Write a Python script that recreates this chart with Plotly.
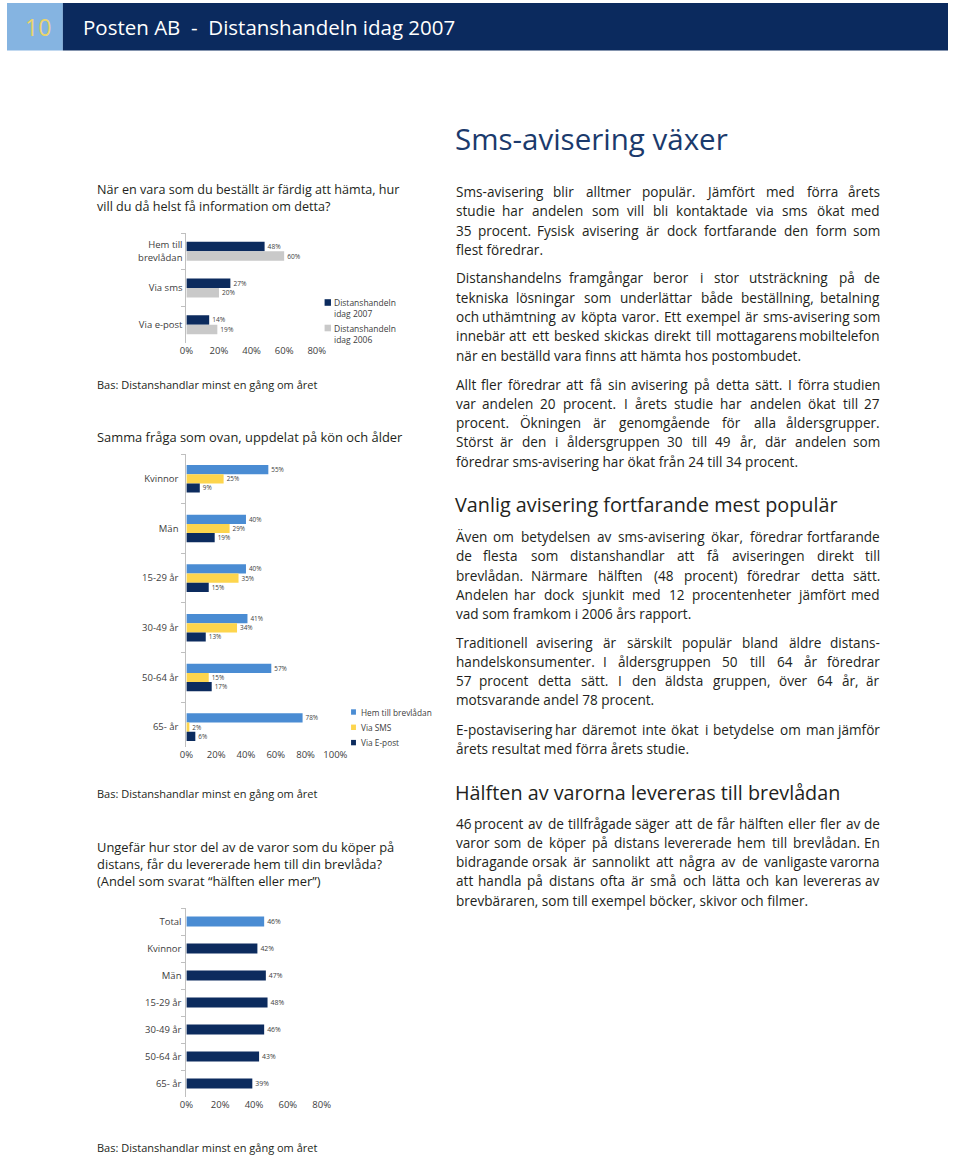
import plotly.graph_objects as go

W, H = 960, 1155
def px(x): return x / W
def py(y): return 1 - y / H

# ---------------- DATA ----------------
c1_categories = ["Hem till<br>brevlådan", "Via sms", "Via e-post"]
c1_series = ["Distanshandeln<br>idag 2007", "Distanshandeln<br>idag 2006"]
c1_2007 = [48, 27, 14]
c1_2006 = [60, 20, 19]
c1_ticks = [0, 20, 40, 60, 80]

c2_categories = ["Kvinnor", "Män", "15-29 år", "30-49 år", "50-64 år", "65- år"]
c2_series = ["Hem till brevlådan", "Via SMS", "Via E-post"]
c2_hem = [55, 40, 40, 41, 57, 78]
c2_sms = [25, 29, 35, 34, 15, 2]
c2_epost = [9, 19, 15, 13, 17, 6]
c2_ticks = [0, 20, 40, 60, 80, 100]

c3_categories = ["Total", "Kvinnor", "Män", "15-29 år", "30-49 år", "50-64 år", "65- år"]
c3_values = [46, 42, 47, 48, 46, 43, 39]
c3_ticks = [0, 20, 40, 60, 80]

# ---------------- STYLE ----------------
NAVY = "#0c2b5e"
GRAY = "#c9c9c9"
BLUE = "#4a8cd3"
YELLOW = "#fdd54d"
TXT = "#231f20"
CTXT = "#404040"
AX = "#bfbfbf"
FONT = "Open Sans"

fig = go.Figure()

def pct(vals):
    return [f"{v}%" for v in vals]

def hbar(cats, vals, color, xa, ya, width, offset, tsize):
    return go.Bar(
        y=cats, x=vals, orientation="h", marker=dict(color=color, line=dict(width=0)),
        width=width, offset=offset, text=pct(vals), textposition="outside",
        textfont=dict(family=FONT, size=tsize, color=CTXT), cliponaxis=False,
        xaxis=xa, yaxis=ya, showlegend=False, hoverinfo="skip",
    )

# chart 1
w1 = 0.26
fig.add_trace(hbar(c1_categories, c1_2007, NAVY, "x", "y", w1, -w1, 9))
fig.add_trace(hbar(c1_categories, c1_2006, GRAY, "x", "y", w1, 0, 9))
# chart 2
w2 = 0.185
fig.add_trace(hbar(c2_categories, c2_hem, BLUE, "x2", "y2", w2, -1.5 * w2, 9))
fig.add_trace(hbar(c2_categories, c2_sms, YELLOW, "x2", "y2", w2, -0.5 * w2, 9))
fig.add_trace(hbar(c2_categories, c2_epost, NAVY, "x2", "y2", w2, 0.5 * w2, 9))
# chart 3
w3 = 0.37
c3_colors = [BLUE] + [NAVY] * (len(c3_values) - 1)
fig.add_trace(hbar(c3_categories, c3_values, c3_colors, "x3", "y3", w3, -w3 / 2, 9))

def xaxis(dom, ticks, anchor):
    return dict(domain=[px(dom[0]), px(dom[1])], range=[ticks[0], ticks[-1]],
                tickvals=ticks, ticktext=[f"{t}%" for t in ticks],
                showgrid=False, zeroline=False, showline=False, ticks="",
                tickfont=dict(family=FONT, size=9.5, color=CTXT), anchor=anchor,
                fixedrange=True)

def yaxis(top, bottom, n, anchor, fsize, standoff, bottom_pad=0.5):
    return dict(domain=[py(bottom), py(top)], type="category",
                range=[n - 1 + bottom_pad, -0.5],
                showgrid=False, zeroline=False, showline=True, linecolor=AX, linewidth=1,
                ticks="outside", tickson="boundaries", ticklen=4, tickcolor=AX,
                tickfont=dict(family=FONT, size=fsize, color=CTXT), anchor=anchor,
                ticklabelstandoff=standoff, fixedrange=True)

fig.update_layout(
    width=W, height=H, margin=dict(l=0, r=0, t=0, b=0),
    paper_bgcolor="white", plot_bgcolor="white", barmode="overlay",
    showlegend=False,
    xaxis=xaxis((183, 316), c1_ticks, "y"),
    yaxis=yaxis(233, 343, 3, "x", 9.5, 1),
    xaxis2=xaxis((183, 335), c2_ticks, "y2"),
    yaxis2=yaxis(454, 747, 6, "x2", 9.5, 5, 0.4),
    xaxis3=xaxis((183, 321), c3_ticks, "y3"),
    yaxis3=yaxis(908, 1097, 7, "x3", 9.5, 2),
)

shapes = []
ann = []

def A(text, x, y, size, color=TXT, xanchor="left", yanchor="middle", family=FONT):
    ann.append(dict(text=text, x=px(x), y=py(y), xref="paper", yref="paper",
                    xanchor=xanchor, yanchor=yanchor, showarrow=False,
                    font=dict(family=family, size=size, color=color), align="left",
                    borderpad=0))

# header
shapes.append(dict(type="rect", xref="paper", yref="paper", x0=px(0), x1=px(57),
                   y0=py(50.5), y1=py(3), fillcolor="#85b4e1", line=dict(width=0)))
shapes.append(dict(type="rect", xref="paper", yref="paper", x0=px(57), x1=px(960),
                   y0=py(50.5), y1=py(3), fillcolor="#0b2a5e", line=dict(width=0)))
A("10", 31.5, 27, 23, "#ebd46b", "center")
A("Posten AB\u00a0\u00a0-\u00a0\u00a0Distanshandeln idag 2007", 77, 27, 20.5, "white")

# legends (custom)
leg1_colors = [NAVY, GRAY]
for i, (name, col) in enumerate(zip(c1_series, leg1_colors)):
    yc = 302.5 + i * 25.5
    shapes.append(dict(type="rect", xref="paper", yref="paper", x0=px(324), x1=px(330.5),
                       y0=py(yc + 3.3), y1=py(yc - 3.3), fillcolor=col, line=dict(width=0)))
    ann.append(dict(text=name, x=px(333), y=py(yc - 6), xref="paper", yref="paper",
                    xanchor="left", yanchor="top", showarrow=False, align="left",
                    font=dict(family=FONT, size=8.5, color=CTXT), borderpad=0))

leg2_colors = [BLUE, YELLOW, NAVY]
for i, (name, col) in enumerate(zip(c2_series, leg2_colors)):
    yc = 712 + i * 15.3
    shapes.append(dict(type="rect", xref="paper", yref="paper", x0=px(351), x1=px(356),
                       y0=py(yc + 2.7), y1=py(yc - 2.7), fillcolor=col, line=dict(width=0)))
    A(name, 360, yc, 8.3, CTXT)

# left column text
A("När en vara som du beställt är färdig att hämta, hur", 91, 190, 12.6)
A("vill du då helst få information om detta?", 91, 207, 12.6)
A("Bas: Distanshandlar minst en gång om året", 91, 384, 11)
A("Samma fråga som ovan, uppdelat på kön och ålder", 91, 437, 12.9)
A("Bas: Distanshandlar minst en gång om året", 91, 793, 11)
A("Ungefär hur stor del av de varor som du köper på", 91, 847, 12.9)
A("distans, får du levererade hem till din brevlåda?", 91, 864, 12.9)
A("(Andel som svarat “hälften eller mer”)", 91, 881, 12.9)
A("Bas: Distanshandlar minst en gång om året", 91, 1147, 11)

# right column
A("Sms-avisering växer", 456, 138, 29.5, "#1b3a6c")
A("Vanlig avisering fortfarande mest populär", 456, 505, 19.8)
A("Hälften av varorna levereras till brevlådan", 456, 792, 19.8)

CW = {' ': .260, '.': .266, ',': .250, '-': .322, '(': .295, ')': .295, '?': .430, ':': .266,
      '%': .83, '“': .40, '”': .40}
CW.update(dict(zip("abcdefghijklmnopqrstuvwxyz",
    [.556, .613, .476, .613, .561, .339, .548, .614, .253, .253, .525, .253, .930, .614,
     .604, .613, .613, .408, .477, .353, .614, .501, .778, .524, .502, .466])))
CW.update(dict(zip("ABCDEFGHIJKLMNOPQRSTUVWXYZ",
    [.633, .648, .631, .729, .556, .516, .728, .738, .279, .267, .614, .529, .903, .760,
     .781, .611, .781, .625, .549, .556, .734, .578, .887, .584, .541, .558])))
CW.update({'å': .556, 'ä': .556, 'ö': .604, 'é': .561, 'Ä': .633, 'Ö': .781, 'Å': .633})
for d in "0123456789":
    CW[d] = .572

def em(s):
    return sum(CW.get(c, .55) for c in s)

paras = [
    (191.5, ["Sms-avisering blir alltmer populär. Jämfört med förra årets",
             "studie har andelen som vill bli kontaktade via sms ökat med",
             "35 procent. Fysisk avisering är dock fortfarande den form som",
             "flest föredrar."]),
    (278, ["Distanshandelns framgångar beror i stor utsträckning på de",
           "tekniska lösningar som underlättar både beställning, betalning",
           "och uthämtning av köpta varor. Ett exempel är sms-avisering som",
           "innebär att ett besked skickas direkt till mottagarens mobiltelefon",
           "när en beställd vara finns att hämta hos postombudet."]),
    (384, ["Allt fler föredrar att få sin avisering på detta sätt. I förra studien",
           "var andelen 20 procent. I årets studie har andelen ökat till 27",
           "procent. Ökningen är genomgående för alla åldersgrupper.",
           "Störst är den i åldersgruppen 30 till 49 år, där andelen som",
           "föredrar sms-avisering har ökat från 24 till 34 procent."]),
    (536.5, ["Även om betydelsen av sms-avisering ökar, föredrar fortfarande",
             "de flesta som distanshandlar att få aviseringen direkt till",
             "brevlådan. Närmare hälften (48 procent) föredrar detta sätt.",
             "Andelen har dock sjunkit med 12 procentenheter jämfört med",
             "vad som framkom i 2006 års rapport."]),
    (642, ["Traditionell avisering är särskilt populär bland äldre distans-",
           "handelskonsumenter. I åldersgruppen 50 till 64 år föredrar",
           "57 procent detta sätt. I den äldsta gruppen, över 64 år, är",
           "motsvarande andel 78 procent."]),
    (729, ["E-postavisering har däremot inte ökat i betydelse om man jämför",
           "årets resultat med förra årets studie."]),
    (823, ["46 procent av de tillfrågade säger att de får hälften eller fler av de",
           "varor som de köper på distans levererade hem till brevlådan. En",
           "bidragande orsak är sannolikt att några av de vanligaste varorna",
           "att handla på distans ofta är små och lätta och kan levereras av",
           "brevbäraren, som till exempel böcker, skivor och filmer."]),
]
L, R = 457, 892
LH = 19.3
nat_max = max(em(l) for _, ls in paras for l in ls[:-1])
bsize = min(13.6, 0.985 * (R - L) / nat_max)
for y0, lines in paras:
    for k, line in enumerate(lines):
        y = y0 + k * LH
        if k == len(lines) - 1:
            A(line, L, y, bsize)
            continue
        words = line.split(" ")
        ws = [em(w) * bsize for w in words]
        gap = (R - L - sum(ws)) / (len(words) - 1)
        x = L
        for i, w in enumerate(words):
            if i == 0:
                A(w, L, y, bsize, xanchor="left")
            elif i == len(words) - 1:
                A(w, R, y, bsize, xanchor="right")
            else:
                A(w, x + ws[i] / 2, y, bsize, xanchor="center")
            x += ws[i] + gap

fig.update_layout(shapes=shapes, annotations=ann)
fig.write_html(
    "out.html",
    config={"responsive": False, "displayModeBar": False},
    post_script="document.body.style.margin='0';document.body.style.padding='0';"
                "document.body.style.overflow='hidden';"
                "document.documentElement.style.overflow='hidden';",
)
